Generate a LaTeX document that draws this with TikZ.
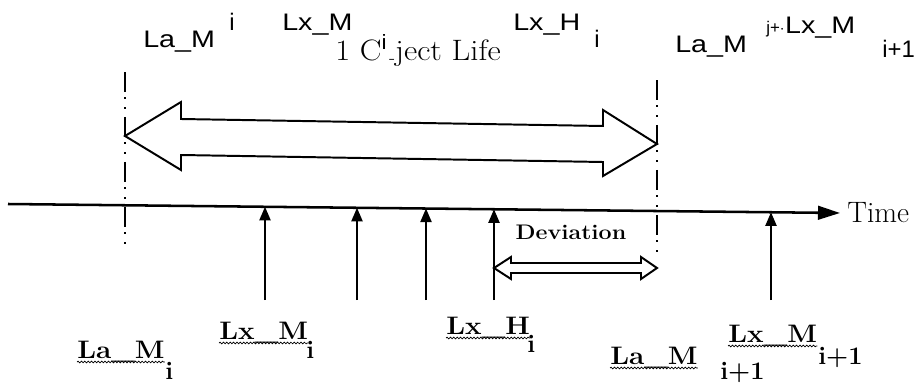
\documentclass[tikz,border=0pt]{standalone}
\usepackage{fontspec}
\usepackage{graphicx}
\setsansfont{Liberation Sans}
\usetikzlibrary{arrows.meta, positioning, calc, decorations.pathmorphing}
\newcommand{\stretchtxt}[2][1.2]{\scalebox{#1}[1]{#2}}
\tikzset{
  toplab/.style ={font=\sffamily\fontsize{17}{17}\selectfont, inner sep=0pt, anchor=base west},
  smalllab/.style={font=\sffamily\fontsize{12}{12}\selectfont, inner sep=0pt, anchor=base west},
  ttl/.style    ={font=\fontsize{21}{21}\selectfont, inner sep=0pt, anchor=base west},
  botlab/.style ={font=\bfseries\fontsize{18}{18}\selectfont, inner sep=0pt, anchor=base west},
  devlab/.style ={font=\bfseries\fontsize{15}{15}\selectfont, inner sep=0pt},
  timelab/.style={font=\fontsize{21}{21}\selectfont, inner sep=0pt, anchor=base west},
  spanline/.style={line width=1.4pt, dash pattern=on 14pt off 4pt on 1pt off 6pt on 1pt off 6pt},
  axis/.style   ={line width=1.8pt, -{Triangle[length=5.5mm, width=3.4mm]}},
  tick/.style   ={line width=1.2pt, -{Triangle[length=3.4mm, width=2.8mm]}},
  hollow/.style ={line width=1.4pt, line join=miter},
  wavy/.style   ={decorate, decoration={snake, amplitude=0.6pt, segment length=2.4pt}, line width=0.5pt},
}
\begin{document}
\begin{tikzpicture}[x=0.25mm, y=-0.25mm]
  \useasboundingbox (0,0) rectangle (924,384);
  % top labels
  \node[toplab] (laMi) at (143,48) {\stretchtxt{La\_M}};
  \node[toplab] (iA) at (229,30) {i};
  \node[toplab] (lxMi) at (282,30) {\stretchtxt{Lx\_M}};
  \node[ttl] (life) at (335,60) {\stretchtxt[1.1]{1 C\textsuperscript{\sffamily i}\kern1pt\raisebox{-0.3ex}{\fontsize{12}{12}\selectfont -}ject Life}};
  \node[toplab] (lxHi) at (513,30) {\stretchtxt{Lx\_H}};
  \node[toplab] (iB) at (594,48) {i};
  \node[toplab] (laMn) at (675,52) {\stretchtxt{La\_M}};
  \node[smalllab] (jplus) at (766,34) {j+$\cdot$};
  \node[toplab, right=0pt of jplus.base east, anchor=base west] (lxMn) {\stretchtxt{Lx\_M}};
  \node[toplab] (iC) at (882,57) {i+1};
  % life span marks
  \coordinate (sTop) at (125,72);  \coordinate (sBot) at (125,250);
  \coordinate (eTop) at (657,80);  \coordinate (eBot) at (657,258);
  \draw[spanline] (sTop) -- (sBot);
  \draw[spanline] (eTop) -- (eBot);
  % object life arrow
  \draw[hollow, fill=white] (125,136) -- (181,102) -- (181,119) -- (603,126) -- (603,110)
    -- (657,144) -- (603,176) -- (603,162) -- (181,155) -- (181,170) -- cycle;
  % time axis
  \coordinate (t0) at (8,204); \coordinate (t1) at (840,213);
  \draw[axis] (t0) -- (t1);
  \node[timelab, right=5pt of t1, anchor=west] (time) {Time};
  % events
  \foreach \n/\x/\y in {a/265/206.8, b/357/207.8, c/426/208.5, d/494/209.3, e/771/212.3}{
    \coordinate (up\n) at (\x,\y);
    \coordinate (lo\n) at (\x,300);
    \draw[tick] (lo\n) -- (up\n);
  }
  % deviation
  \node[devlab] (dev) at (571,232) {\stretchtxt[1.1]{Deviation}};
  \draw[hollow] (494,268) -- (511,257) -- (511,263) -- (641,263) -- (641,257) -- (657,268)
    -- (641,279) -- (641,273) -- (511,273) -- (511,279) -- cycle;
  % bottom labels
  \node[botlab] (bLaMi) at (77,358) {\stretchtxt[1.1]{La\_M}};
  \node[botlab] (bLaMiS) at (165,379) {i};
  \node[botlab] (bLxMi) at (219,339) {\stretchtxt[1.1]{Lx\_M}};
  \node[botlab] (bLxMiS) at (306,358) {i};
  \node[botlab] (bLxHi) at (446,334) {\stretchtxt[1.1]{Lx\_H}};
  \node[botlab] (bLxHiS) at (527,352) {i};
  \node[botlab] (bLaMn) at (610,364) {\stretchtxt[1.1]{La\_M}};
  \node[botlab] (bLaMnS) at (720,379) {i+1};
  \node[botlab] (bLxMn) at (728,342) {\stretchtxt[1.1]{Lx\_M}};
  \node[botlab] (bLxMnS) at (818,364) {i+1};
  \foreach \w in {bLaMi, bLxMi, bLxHi, bLaMn, bLxMn}{
    \draw[wavy] ($(\w.base west)+(0,4)$) -- ($(\w.base east)+(0,4)$);
  }
\end{tikzpicture}
\end{document}
